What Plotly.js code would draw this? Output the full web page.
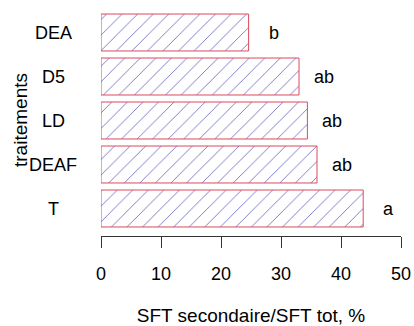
<!DOCTYPE html>
<html>
<head>
<meta charset="utf-8">
<script src="https://cdn.plot.ly/plotly-3.0.1.min.js"></script>
<style>
html,body{margin:0;padding:0;background:#fff;}
#chart{width:414px;height:326px;}
</style>
</head>
<body>
<div id="chart"></div>
<script>
const categories = ["T", "DEAF", "LD", "D5", "DEA"];
const values = [43.7, 36.0, 34.4, 33.0, 24.6];
const letters = ["a", "ab", "ab", "ab", "b"];
const xTicks = [0, 10, 20, 30, 40, 50];

const FONT = "Liberation Sans, Arial, sans-serif";

const trace = {
  type: "bar",
  orientation: "h",
  x: values,
  y: categories,
  width: 0.84,
  marker: {
    color: "#ffffff",
    line: {color: "#dc4a5c", width: 1},
    pattern: {shape: "/", fgcolor: "#5a5ab8", bgcolor: "#ffffff", size: 11, solidity: 0.07}
  },
  hoverinfo: "skip",
  showlegend: false
};

const annotations = [];
categories.forEach((c, i) => {
  annotations.push({
    x: values[i], y: c, xref: "x", yref: "y",
    text: letters[i], showarrow: false,
    xanchor: "center", yanchor: "middle", xshift: 25,
    font: {family: FONT, size: 18, color: "#000"}
  });
  annotations.push({
    x: -0.16, y: c, xref: "paper", yref: "y",
    text: c, showarrow: false,
    xanchor: "center", yanchor: "middle",
    font: {family: FONT, size: 18, color: "#000"}
  });
});

const layout = {
  width: 414, height: 326,
  margin: {l: 101, r: 13, t: 4, b: 90, pad: 0},
  paper_bgcolor: "#fff", plot_bgcolor: "#fff",
  font: {family: FONT, color: "#000"},
  xaxis: {
    range: [0, 50],
    tickvals: xTicks,
    ticktext: xTicks.map(String),
    ticks: "outside", ticklen: 11, tickwidth: 1, tickcolor: "#333",
    showline: true, linecolor: "#333", linewidth: 1,
    showgrid: false, zeroline: false,
    tickfont: {family: FONT, size: 18, color: "#000"},
    ticklabelstandoff: 10,
    title: {text: "SFT secondaire/SFT tot, %", font: {family: FONT, size: 19, color: "#000"}, standoff: 26}
  },
  yaxis: {
    type: "category",
    categoryorder: "array", categoryarray: categories,
    range: [-0.625, 4.648],
    showticklabels: false, ticks: "",
    showline: false, showgrid: false, zeroline: false,
    title: {text: ""}
  },
  annotations: annotations.concat([{
    x: (20 - 101) / 300, y: 0.5, xref: "paper", yref: "paper",
    text: "traitements", showarrow: false, textangle: -90,
    xanchor: "center", yanchor: "middle",
    font: {family: FONT, size: 19, color: "#000"}
  }])
};

Plotly.newPlot("chart", [trace], layout, {displayModeBar: false, staticPlot: true});
</script>
</body>
</html>
